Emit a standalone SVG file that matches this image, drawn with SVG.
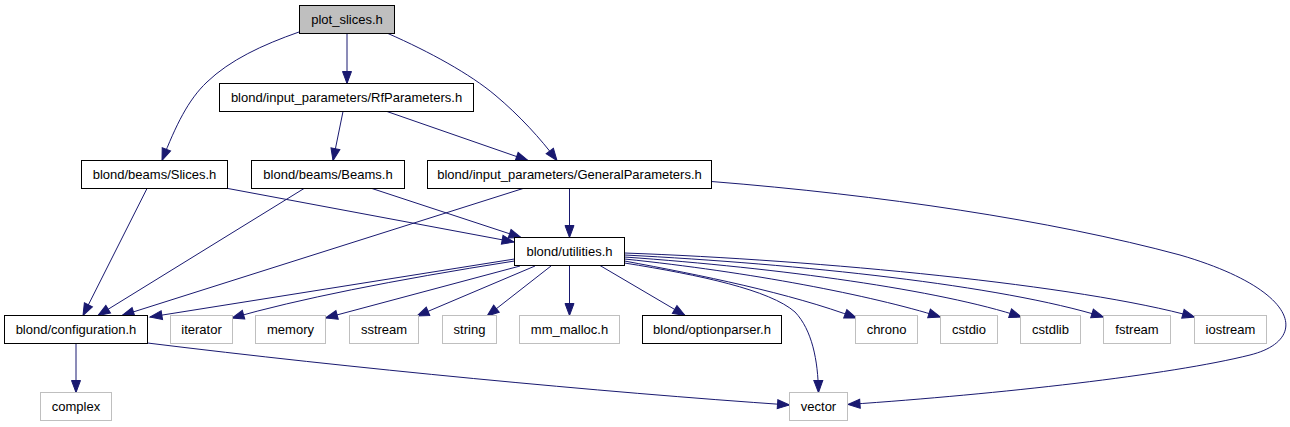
<svg xmlns="http://www.w3.org/2000/svg" width="1290" height="427" viewBox="0 0 1290 427">
<style>
.n rect{fill:#fff;stroke:#000;stroke-width:1}
.g rect{fill:#fff;stroke:#bfbfbf;stroke-width:1}
.m rect{fill:#bfbfbf;stroke:#000;stroke-width:1}
text{font-family:"Liberation Sans",Arial,sans-serif;font-size:13px;fill:#000;text-anchor:middle}
#edges path{fill:none;stroke:#191970;stroke-width:1;marker-end:url(#a)}
</style>
<defs>
<marker id="a" markerWidth="14" markerHeight="11" refX="12" refY="4.5" orient="auto" markerUnits="userSpaceOnUse" overflow="visible">
<path d="M0,0 L12,4.5 L0,9 z" fill="#191970" stroke="#191970" stroke-width="1"/>
</marker>
</defs>
<rect width="1290" height="427" fill="#fff"/>
<g id="edges">
<path d="M299,32 C262,45 230,60 207,82 C188,100 176,125 162,160.5"/>
<path d="M347,33.5 L347,83.5"/>
<path d="M388,33.5 C430,52 470,74 495,95 C520,116 540,138 557,160.5"/>
<path d="M343,111.5 L333,160.5"/>
<path d="M387,111.5 L528,160.5"/>
<path d="M147,188.5 L83,315.5"/>
<path d="M228,188.5 L514,242"/>
<path d="M304,188.5 L98,315.5"/>
<path d="M372,188.5 L521,237.5"/>
<path d="M523,188.5 L122,315.5"/>
<path d="M569.5,188.5 L569.5,237.5"/>
<path d="M711.5,181.5 C880,195 1050,220 1180,255 C1300,290 1310,340 1250,355 C1170,375 1000,394 848,404.5"/>
<path d="M514.5,259 L150,317"/>
<path d="M514.5,261 Q330,290 232,318"/>
<path d="M520,266 L325.5,318"/>
<path d="M535,266 L417,316"/>
<path d="M551,266 L487,316"/>
<path d="M569.5,265.5 L569.5,315.5"/>
<path d="M600,265.5 L685,315.5"/>
<path d="M624.5,263 C700,275 770,290 795,312 C812,330 818,360 818.5,392.5"/>
<path d="M624.5,261 C700,275 790,293 856.5,318"/>
<path d="M624.5,259 C750,272 870,295 940.5,317"/>
<path d="M624.5,257 C780,268 940,290 1021.5,317"/>
<path d="M624.5,255 C800,264 1000,285 1103.5,317"/>
<path d="M624.5,253 C820,260 1080,285 1194.5,317"/>
<path d="M76,343.5 L76,392.5"/>
<path d="M147.5,343 C350,368 600,392 789.5,405"/>
</g>
<g id="plot_slices" class="m"><rect x="299.5" y="5.5" width="95" height="28"/><text x="347" y="24">plot_slices.h</text></g>
<g id="RfParameters" class="n"><rect x="219.5" y="83.5" width="254" height="28"/><text x="346.5" y="102">blond/input_parameters/RfParameters.h</text></g>
<g id="Slices" class="n"><rect x="81.5" y="160.5" width="146" height="28"/><text x="154.5" y="179">blond/beams/Slices.h</text></g>
<g id="Beams" class="n"><rect x="251.5" y="160.5" width="153" height="28"/><text x="328" y="179">blond/beams/Beams.h</text></g>
<g id="GeneralParameters" class="n"><rect x="427.5" y="160.5" width="284" height="28"/><text x="569.5" y="179">blond/input_parameters/GeneralParameters.h</text></g>
<g id="utilities" class="n"><rect x="514.5" y="237.5" width="110" height="28"/><text x="569.5" y="256">blond/utilities.h</text></g>
<g id="configuration" class="n"><rect x="4.5" y="315.5" width="143" height="28"/><text x="76" y="334">blond/configuration.h</text></g>
<g id="iterator" class="g"><rect x="170.5" y="315.5" width="62" height="28"/><text x="201.5" y="334">iterator</text></g>
<g id="memory" class="g"><rect x="255.5" y="315.5" width="70" height="28"/><text x="290.5" y="334">memory</text></g>
<g id="sstream" class="g"><rect x="349.5" y="315.5" width="69" height="28"/><text x="384" y="334">sstream</text></g>
<g id="string" class="g"><rect x="442.5" y="315.5" width="54" height="28"/><text x="469.5" y="334">string</text></g>
<g id="mm_malloc" class="g"><rect x="519.5" y="315.5" width="100" height="28"/><text x="569.5" y="334">mm_malloc.h</text></g>
<g id="optionparser" class="n"><rect x="642.5" y="315.5" width="139" height="28"/><text x="712" y="334">blond/optionparser.h</text></g>
<g id="chrono" class="g"><rect x="855.5" y="315.5" width="62" height="28"/><text x="886.5" y="334">chrono</text></g>
<g id="cstdio" class="g"><rect x="940.5" y="315.5" width="57" height="28"/><text x="969" y="334">cstdio</text></g>
<g id="cstdlib" class="g"><rect x="1020.5" y="315.5" width="60" height="28"/><text x="1050.5" y="334">cstdlib</text></g>
<g id="fstream" class="g"><rect x="1103.5" y="315.5" width="67" height="28"/><text x="1137" y="334">fstream</text></g>
<g id="iostream" class="g"><rect x="1194.5" y="315.5" width="72" height="28"/><text x="1230.5" y="334">iostream</text></g>
<g id="complex" class="g"><rect x="40.5" y="392.5" width="71" height="28"/><text x="76" y="411">complex</text></g>
<g id="vector" class="g"><rect x="789.5" y="392.5" width="58" height="28"/><text x="818.5" y="411">vector</text></g>
</svg>
